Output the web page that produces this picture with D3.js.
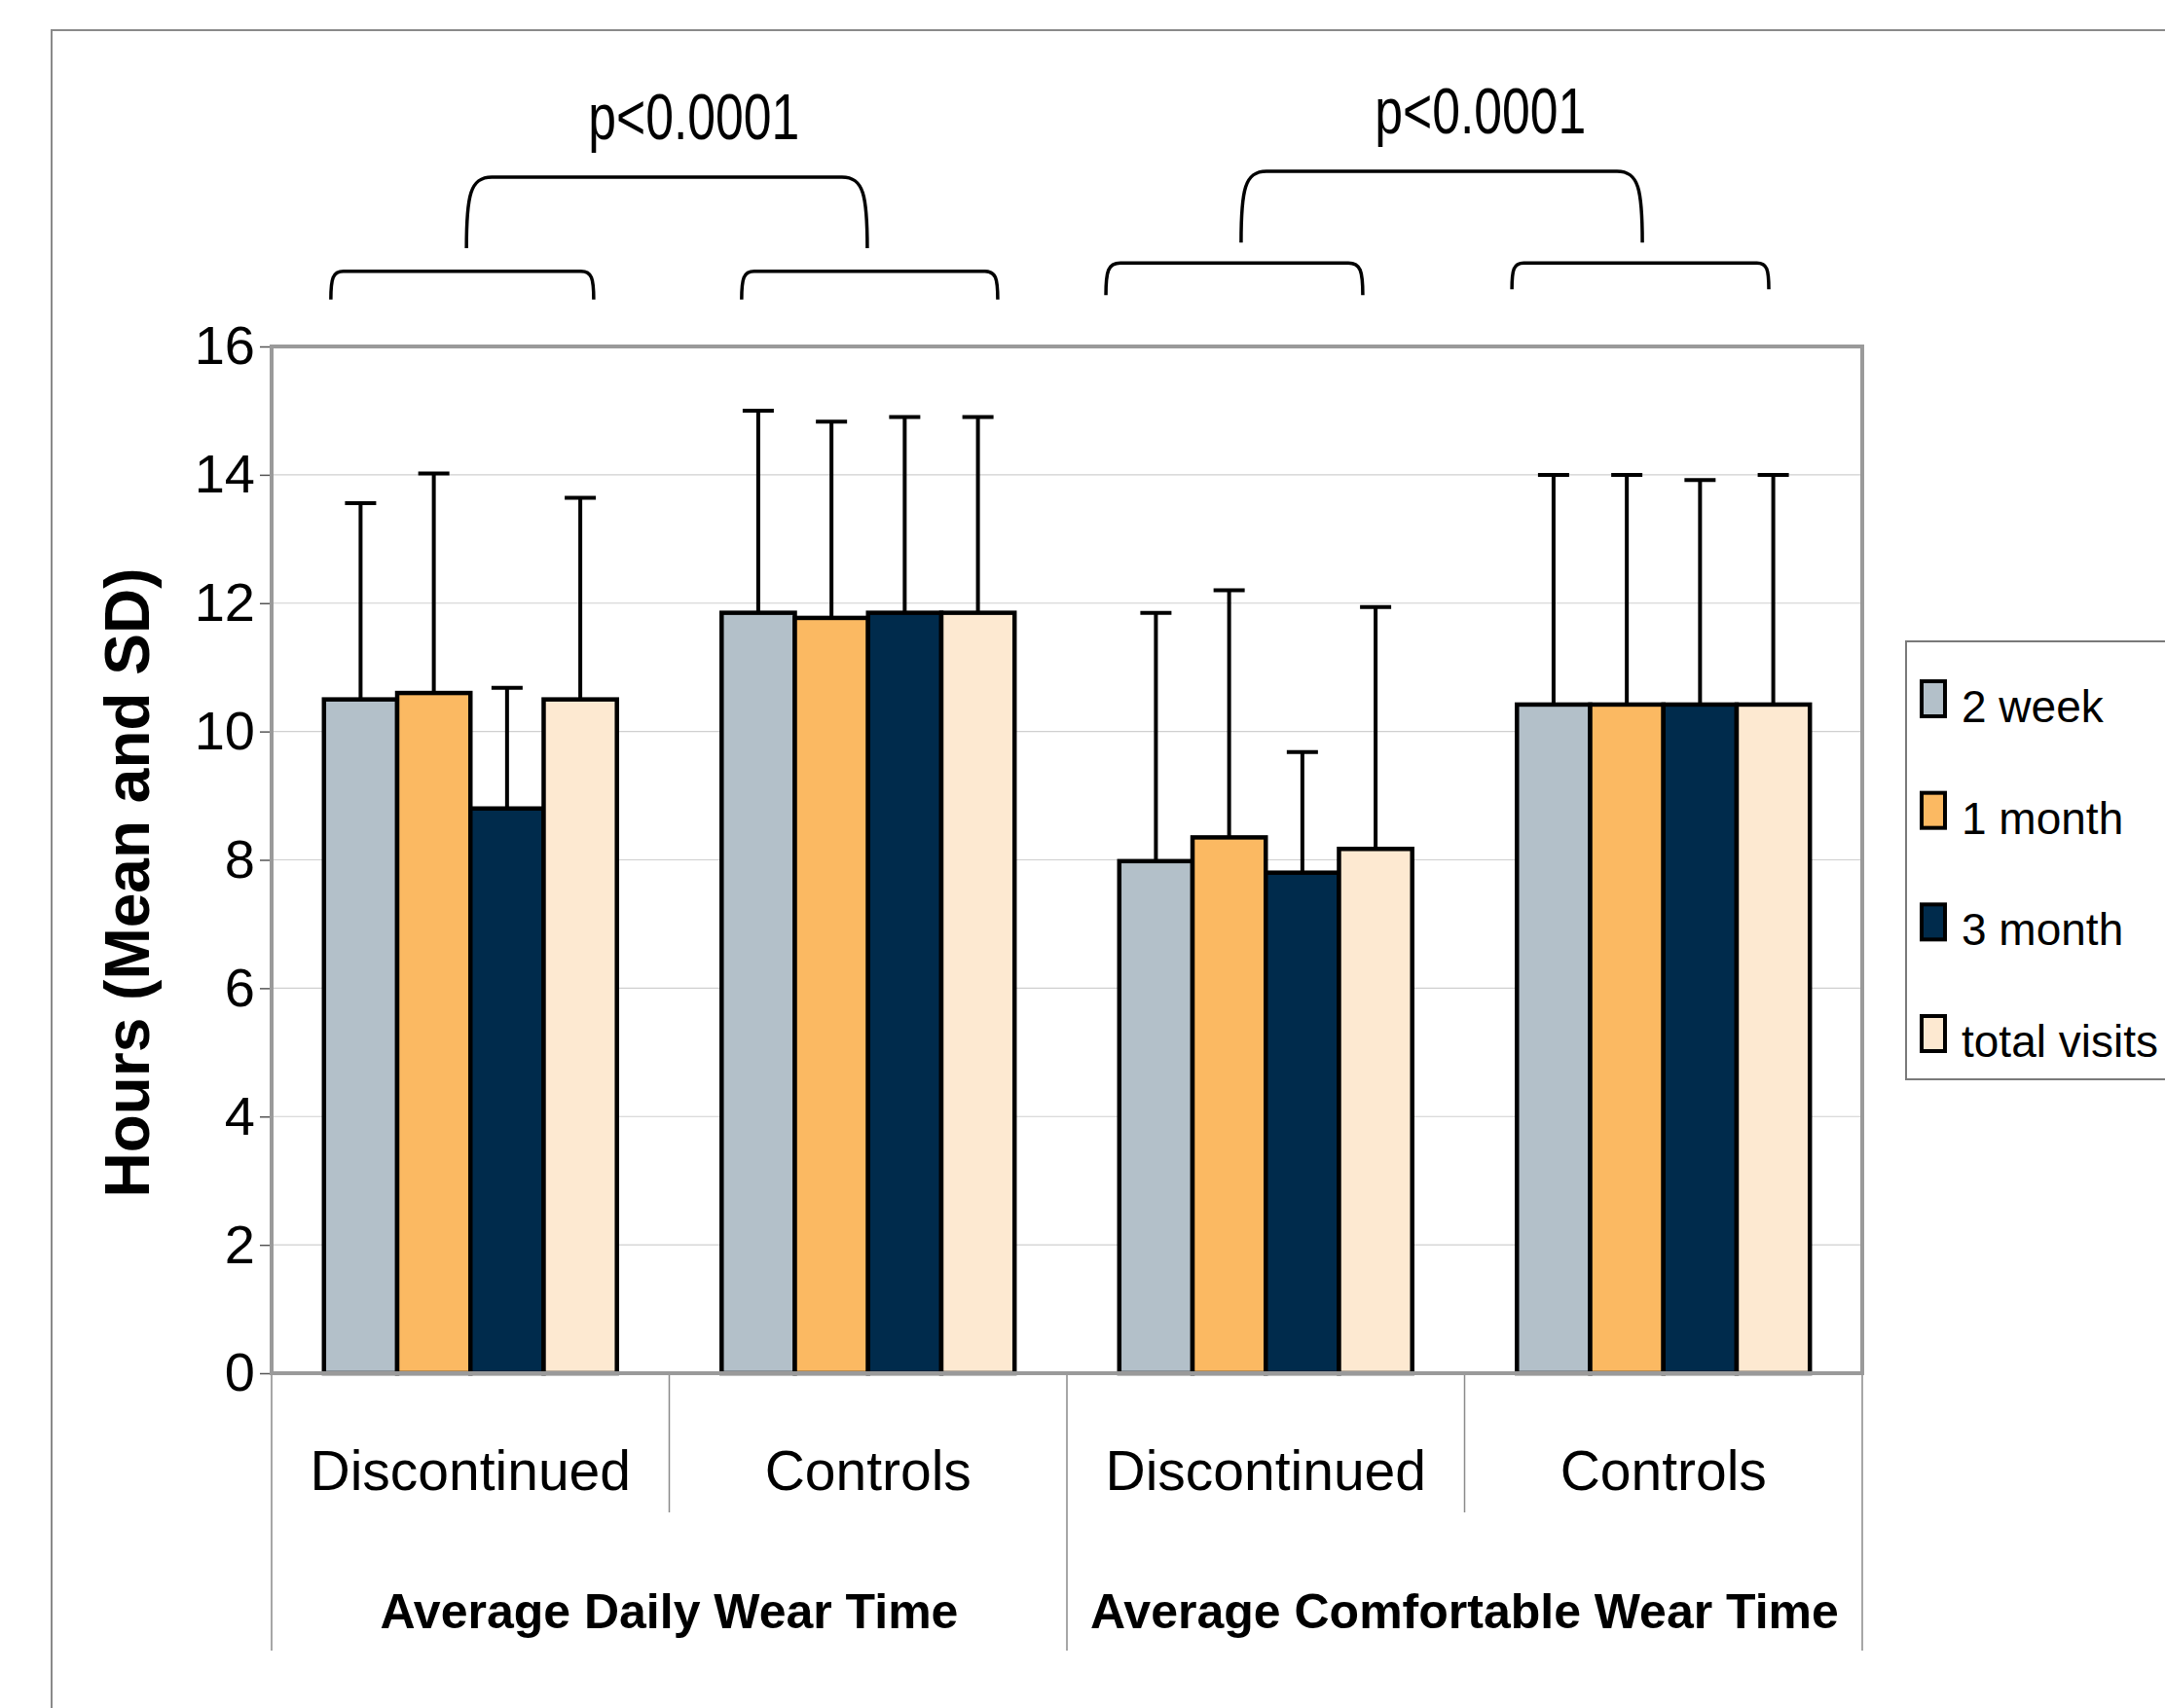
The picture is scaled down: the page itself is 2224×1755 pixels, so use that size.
<!DOCTYPE html>
<html>
<head>
<meta charset="utf-8">
<script src="https://cdn.jsdelivr.net/npm/d3@7"></script>
<style>
  body { margin: 0; background: #fff; }
  text { font-family: "Liberation Sans", Arial, sans-serif; fill: #000; }
</style>
</head>
<body>
<div id="chart"></div>
<script>

var categories = ["Discontinued", "Controls", "Discontinued", "Controls"];
var groups = ["Average Daily Wear Time", "Average Comfortable Wear Time"];
var seriesNames = ["2 week", "1 month", "3 month", "total visits"];
var yTicks = [0, 2, 4, 6, 8, 10, 12, 14, 16];

// means, one value per category
var week2Mean  = [10.5, 11.85, 7.98, 10.42];
var month1Mean = [10.6, 11.77, 8.35, 10.42];
var month3Mean = [8.8, 11.85, 7.8, 10.42];
var totalMean  = [10.5, 11.85, 8.17, 10.42];

// standard deviations (upper bar only)
var week2SD  = [3.06, 3.15, 3.87, 3.58];
var month1SD = [3.42, 3.06, 3.85, 3.58];
var month3SD = [1.88, 3.05, 1.88, 3.5];
var totalSD  = [3.14, 3.05, 3.77, 3.58];

var colors = ["#b3c0c9", "#fbb962", "#002b4c", "#fde9d1"];

// significance brackets: [start, end] in category units, [top, foot] in hours
var brackets = [
	{x: [0.149, 0.81], y: [17.17, 16.73]},
	{x: [1.182, 1.826], y: [17.17, 16.73]},
	{x: [0.49, 1.498], y: [18.64, 17.53]},
	{x: [2.098, 2.744], y: [17.3, 16.8]},
	{x: [3.119, 3.765], y: [17.3, 16.89]},
	{x: [2.438, 3.447], y: [18.73, 17.62]}
];
var pLabels = [
	{text: "p<0.0001", x: 1.062, y: 19.23},
	{text: "p<0.0001", x: 3.04, y: 19.32}
];

var width = 2224;
var height = 1755;
var plotLeft = 279, plotRight = 1913, plotTop = 356, plotBottom = 1411;

var means = [week2Mean, month1Mean, month3Mean, totalMean];
var sds = [week2SD, month1SD, month3SD, totalSD];

var svg = d3.select("#chart")
		.append("svg")
		.attr("width", width)
		.attr("height", height);

// outer frame
svg.append("path")
	.attr("d", "M53," + height + "V31H" + width)
	.attr("fill", "none")
	.attr("stroke", "#8a8a8a")
	.attr("stroke-width", 2);

var catIdx = d3.range(categories.length);

var x0 = d3.scaleBand()
		.domain(catIdx)
		.range([plotLeft, plotRight])
		.padding(0);

var x1 = d3.scaleBand()
		.domain(d3.range(seriesNames.length))
		.range([0, x0.bandwidth()])
		.paddingInner(0)
		.paddingOuter(0.715);

var units = d3.scaleLinear()
		.domain([0, categories.length])
		.range([plotLeft, plotRight]);

var yScale = d3.scaleLinear()
		.domain([0, 16])
		.range([plotBottom, plotTop]);

// gridlines
svg.append("g")
	.selectAll("line")
	.data(yTicks.filter(function(d) { return d > 0 && d < 16; }))
	.enter()
	.append("line")
	.attr("x1", plotLeft)
	.attr("x2", plotRight)
	.attr("y1", function(d) { return yScale(d); })
	.attr("y2", function(d) { return yScale(d); })
	.attr("stroke", "#cfcfcf")
	.attr("stroke-width", 1.2);

// y axis
var yAxis = d3.axisLeft(yScale)
		.tickValues(yTicks)
		.tickSize(12)
		.tickPadding(5);

var yAxisHandle = svg.append("g")
	.attr("transform", "translate(" + plotLeft + ",0)")
	.call(yAxis);

yAxisHandle.select(".domain").remove();
yAxisHandle.selectAll(".tick line").attr("stroke", "#555").attr("stroke-width", 1.5);
yAxisHandle.selectAll(".tick text")
	.attr("font-size", 56)
	.attr("font-family", "Liberation Sans, Arial, sans-serif")
	.attr("fill", "#000");

// bars
var rows = [];
catIdx.forEach(function(c) {
	seriesNames.forEach(function(s, i) {
		rows.push({cat: c, s: i, mean: means[i][c], sd: sds[i][c]});
	});
});

svg.append("g")
	.selectAll("rect")
	.data(rows)
	.enter()
	.append("rect")
	.attr("x", function(d) { return x0(d.cat) + x1(d.s); })
	.attr("y", function(d) { return yScale(d.mean); })
	.attr("width", x1.bandwidth())
	.attr("height", function(d) { return yScale(0) - yScale(d.mean); })
	.attr("fill", function(d) { return colors[d.s]; })
	.attr("stroke", "#000")
	.attr("stroke-width", 4.5);

// error bars
var errs = svg.append("g")
	.attr("stroke", "#000")
	.attr("stroke-width", 4);

errs.selectAll(".stem")
	.data(rows)
	.enter()
	.append("line")
	.attr("class", "stem")
	.attr("x1", function(d) { return x0(d.cat) + x1(d.s) + x1.bandwidth() / 2; })
	.attr("x2", function(d) { return x0(d.cat) + x1(d.s) + x1.bandwidth() / 2; })
	.attr("y1", function(d) { return yScale(d.mean); })
	.attr("y2", function(d) { return yScale(d.mean + d.sd); });

errs.selectAll(".cap")
	.data(rows)
	.enter()
	.append("line")
	.attr("class", "cap")
	.attr("x1", function(d) { return x0(d.cat) + x1(d.s) + x1.bandwidth() / 2 - 16; })
	.attr("x2", function(d) { return x0(d.cat) + x1(d.s) + x1.bandwidth() / 2 + 16; })
	.attr("y1", function(d) { return yScale(d.mean + d.sd); })
	.attr("y2", function(d) { return yScale(d.mean + d.sd); });

// plot border
svg.append("rect")
	.attr("x", plotLeft)
	.attr("y", plotTop)
	.attr("width", plotRight - plotLeft)
	.attr("height", plotBottom - plotTop)
	.attr("fill", "none")
	.attr("stroke", "#9a9a9a")
	.attr("stroke-width", 4);

// category dividers below the axis
var dividers = svg.append("g")
	.attr("stroke", "#8a8a8a")
	.attr("stroke-width", 1.5);

d3.range(categories.length + 1).forEach(function(i) {
	var isGroup = (i % 2 === 0);
	dividers.append("line")
		.attr("x1", units(i))
		.attr("x2", units(i))
		.attr("y1", plotBottom + 2)
		.attr("y2", isGroup ? 1696 : 1554);
});

svg.append("g")
	.selectAll("text")
	.data(categories)
	.enter()
	.append("text")
	.attr("x", function(d, i) { return x0(i) + x0.bandwidth() / 2; })
	.attr("y", 1531)
	.attr("text-anchor", "middle")
	.attr("font-size", 57)
	.text(function(d) { return d; });

svg.append("g")
	.selectAll("text")
	.data(groups)
	.enter()
	.append("text")
	.attr("x", function(d, i) { return units(i * 2 + 1); })
	.attr("y", 1673)
	.attr("text-anchor", "middle")
	.attr("font-size", 50)
	.attr("font-weight", "bold")
	.text(function(d) { return d; });

// y title
svg.append("text")
	.attr("transform", "translate(153,907) rotate(-90)")
	.attr("text-anchor", "middle")
	.attr("font-size", 64)
	.attr("font-weight", "bold")
	.text("Hours (Mean and SD)");

// brackets
svg.append("g")
	.selectAll("path")
	.data(brackets)
	.enter()
	.append("path")
	.attr("d", function(d) {
		var xa = units(d.x[0]), xb = units(d.x[1]);
		var yt = yScale(d.y[0]), yb = yScale(d.y[1]);
		var h = yb - yt;
		var dx = Math.min(26, h * 0.45);
		return "M" + xa + "," + yb +
			"C" + xa + "," + (yt + h * 0.25) + " " + (xa + dx * 0.15) + "," + yt + " " + (xa + dx) + "," + yt +
			"L" + (xb - dx) + "," + yt +
			"C" + (xb - dx * 0.15) + "," + yt + " " + xb + "," + (yt + h * 0.25) + " " + xb + "," + yb;
	})
	.attr("fill", "none")
	.attr("stroke", "#000")
	.attr("stroke-width", 3.5);

svg.append("g")
	.selectAll("text")
	.data(pLabels)
	.enter()
	.append("text")
	.attr("x", function(d) { return units(d.x); })
	.attr("y", function(d) { return yScale(d.y); })
	.attr("text-anchor", "middle")
	.attr("font-size", 66)
	.attr("textLength", 217)
	.attr("lengthAdjust", "spacingAndGlyphs")
	.text(function(d) { return d.text; });

// legend
var legend = svg.append("g");

legend.append("rect")
	.attr("x", 1958)
	.attr("y", 659)
	.attr("width", 400)
	.attr("height", 450)
	.attr("fill", "#fff")
	.attr("stroke", "#7a7a7a")
	.attr("stroke-width", 2);

var legendY = d3.scalePoint()
		.domain(d3.range(seriesNames.length))
		.range([718, 1062]);

legend.selectAll(".swatch")
	.data(seriesNames)
	.enter()
	.append("rect")
	.attr("class", "swatch")
	.attr("x", 1974)
	.attr("y", function(d, i) { return legendY(i) - 18; })
	.attr("width", 24)
	.attr("height", 36)
	.attr("fill", function(d, i) { return colors[i]; })
	.attr("stroke", "#000")
	.attr("stroke-width", 4);

legend.selectAll(".label")
	.data(seriesNames)
	.enter()
	.append("text")
	.attr("class", "label")
	.attr("x", 2015)
	.attr("y", function(d, i) { return legendY(i) + 24; })
	.attr("font-size", 46)
	.text(function(d) { return d; });

</script>
</body>
</html>
